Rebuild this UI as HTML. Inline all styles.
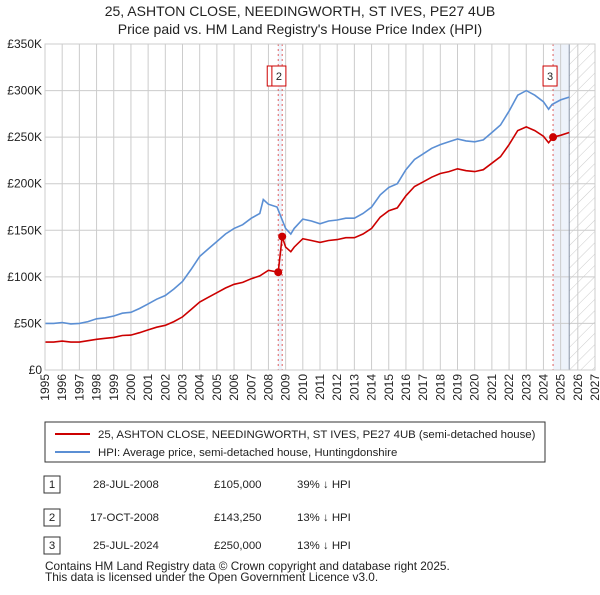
<!DOCTYPE html>
<html><head><meta charset="utf-8"><style>
body{margin:0;background:#fff;font-family:"Liberation Sans",sans-serif}
svg text{font-family:"Liberation Sans","DejaVu Sans",sans-serif}
</style></head><body>
<svg id="c" width="600" height="590" xmlns="http://www.w3.org/2000/svg">
<defs><pattern id="h" width="8" height="8" patternUnits="userSpaceOnUse" patternTransform="rotate(45)"><line x1="0" y1="0" x2="0" y2="8" stroke="#ccc" stroke-width="1"/></pattern></defs>
<text x="300" y="16" text-anchor="middle" font-size="14" fill="#222">25, ASHTON CLOSE, NEEDINGWORTH, ST IVES, PE27 4UB</text>
<text x="300" y="34" text-anchor="middle" font-size="14" fill="#222">Price paid vs. HM Land Registry's House Price Index (HPI)</text>
<g id="plot"></g>
<rect x="45" y="422" width="500" height="40" fill="#fff" stroke="#333"/>
<line x1="55" y1="434" x2="90" y2="434" stroke="#cc0000" stroke-width="2"/>
<text x="98" y="438" font-size="11.4" fill="#222">25, ASHTON CLOSE, NEEDINGWORTH, ST IVES, PE27 4UB (semi-detached house)</text>
<line x1="55" y1="452" x2="90" y2="452" stroke="#5b8fd4" stroke-width="2"/>
<text x="98" y="456" font-size="11.4" fill="#222">HPI: Average price, semi-detached house, Huntingdonshire</text>
<g font-size="11.4" fill="#222">
<rect x="44" y="476" width="16" height="17" fill="none" stroke="#333"/><text x="52" y="488" text-anchor="middle">1</text>
<text x="93" y="488">28-JUL-2008</text><text x="214" y="488">£105,000</text><text x="297" y="488">39% ↓ HPI</text>
<rect x="44" y="509" width="16" height="17" fill="none" stroke="#333"/><text x="52" y="521" text-anchor="middle">2</text>
<text x="90" y="521">17-OCT-2008</text><text x="214" y="521">£143,250</text><text x="297" y="521">13% ↓ HPI</text>
<rect x="44" y="537" width="16" height="17" fill="none" stroke="#333"/><text x="52" y="549" text-anchor="middle">3</text>
<text x="93" y="549">25-JUL-2024</text><text x="214" y="549">£250,000</text><text x="297" y="549">13% ↓ HPI</text>
<text x="45" y="570" font-size="11.8">Contains HM Land Registry data © Crown copyright and database right 2025.</text>
<text x="45" y="581" font-size="11.8">This data is licensed under the Open Government Licence v3.0.</text>
</g>
</svg>
<script>
const hpiYears=[1995,1995.5,1996,1996.5,1997,1997.5,1998,1998.5,1999,1999.5,2000,2000.5,2001,2001.5,2002,2002.5,2003,2003.5,2004,2004.5,2005,2005.5,2006,2006.5,2007,2007.5,2007.7,2008,2008.5,2009,2009.3,2009.5,2010,2010.5,2011,2011.5,2012,2012.5,2013,2013.5,2014,2014.5,2015,2015.5,2016,2016.5,2017,2017.5,2018,2018.5,2019,2019.5,2020,2020.5,2021,2021.5,2022,2022.5,2023,2023.5,2024,2024.3,2024.5,2025,2025.5];
const hpiValues=[50,50,51,49.5,50,52,55,56,58,61,62,66,71,76,80,87,95,108,122,130,138,146,152,156,163,168,183,178,175,152,146,152,162,160,157,160,161,163,163,168,175,188,196,200,215,226,232,238,242,245,248,246,245,247,255,263,278,295,300,295,288,280,285,290,293];
const redYears=[1995,1995.5,1996,1996.5,1997,1997.5,1998,1998.5,1999,1999.5,2000,2000.5,2001,2001.5,2002,2002.5,2003,2003.5,2004,2004.5,2005,2005.5,2006,2006.5,2007,2007.5,2008,2008.57,2008.8,2009,2009.3,2009.5,2010,2010.5,2011,2011.5,2012,2012.5,2013,2013.5,2014,2014.5,2015,2015.5,2016,2016.5,2017,2017.5,2018,2018.5,2019,2019.5,2020,2020.5,2021,2021.5,2022,2022.5,2023,2023.5,2024,2024.3,2024.56,2025,2025.5];
const redValues=[30,30,31,30,30,31.5,33,34,35,37,37.5,40,43,46,48,52,57,65,73,78,83,88,92,94,98,101,107,105,143.25,132,127,132,141,139,137,139,140,142,142,146,152,164,171,174,187,197,202,207,211,213,216,214,213,215,222,229,242,257,261,257,251,244,250,252,255];
const saleYears=[2008.57,2008.8,2024.56];
const saleValues=[105,143.25,250];
const saleLabels=["1","2","3"];
const yTicks=[0,50,100,150,200,250,300,350];
const yTickLabels=["£0","£50K","£100K","£150K","£200K","£250K","£300K","£350K"];
const xTicks=[1995,1996,1997,1998,1999,2000,2001,2002,2003,2004,2005,2006,2007,2008,2009,2010,2011,2012,2013,2014,2015,2016,2017,2018,2019,2020,2021,2022,2023,2024,2025,2026,2027];
const X0=45,X1=595,Y0=370,Y1=44,dataEnd=2025.5;
const xs=y=>X0+(y-1995)/(2027-1995)*(X1-X0);
const ys=v=>Y0-v/350*(Y0-Y1);
const NS="http://www.w3.org/2000/svg";
const g=document.getElementById('plot');
function mk(t,a){const e=document.createElementNS(NS,t);for(const k in a)e.setAttribute(k,a[k]);g.appendChild(e);return e;}
let b=mk('rect',{x:xs(saleYears[0]),y:Y1,width:xs(saleYears[1])-xs(saleYears[0]),height:Y0-Y1,fill:'#eef3fb'});


b=mk('rect',{x:xs(saleYears[2]),y:Y1,width:xs(dataEnd)-xs(saleYears[2]),height:Y0-Y1,fill:'#eef3fb'});


b=mk('rect',{x:xs(dataEnd),y:Y1,width:X1-xs(dataEnd),height:Y0-Y1,fill:'url(#h)'});


yTicks.forEach((v,i)=>{
 const l=mk('line',{x1:X0,x2:X1,y1:ys(v),y2:ys(v),stroke:'#ccc'});
 
 
 const t=mk('text',{x:X0-3,y:ys(v)+4,'text-anchor':'end','font-size':12,fill:'#222'});
 t.textContent=yTickLabels[i];
 
 
});
xTicks.forEach(v=>{
 const l=mk('line',{x1:xs(v),x2:xs(v),y1:Y1,y2:Y0,stroke:'#ccc'});
 
 
 const t=mk('text',{x:0,y:0,'text-anchor':'end','font-size':12,fill:'#222',transform:`translate(${xs(v)+4},374) rotate(-90)`});
 t.textContent=v;
 
 
});
let dl=mk('line',{x1:xs(dataEnd),x2:xs(dataEnd),y1:Y1,y2:Y0,stroke:'#8a94a6','stroke-width':1});


saleYears.forEach((y,i)=>{
 const l=mk('line',{x1:xs(y),x2:xs(y),y1:Y1,y2:Y0,stroke:'#e06060','stroke-dasharray':'2,3'});
 
 
});
const path=(xa,va)=>xa.map((x,i)=>(i?'L':'M')+xs(x).toFixed(1)+','+ys(va[i]).toFixed(1)).join('');
let p=mk('path',{d:path(hpiYears,hpiValues),fill:'none',stroke:'#5b8fd4','stroke-width':1.6});


p=mk('path',{d:path(redYears,redValues),fill:'none',stroke:'#cc0000','stroke-width':1.6});


saleYears.forEach((y,i)=>{
 const c=mk('circle',{cx:xs(y),cy:ys(saleValues[i]),r:4,fill:'#cc0000'});
 
 
});
const boxOff=[-11,-10.3,-10];
saleYears.forEach((y,i)=>{
 const bx=xs(y)+boxOff[i];
 const r=mk('rect',{x:bx,y:66,width:14,height:20,fill:'#fff',stroke:'#cc0000'});
 
 
 const t=mk('text',{x:bx+7,y:80,'text-anchor':'middle','font-size':11,fill:'#222'});
 t.textContent=saleLabels[i];
 
 
});
let ax=mk('rect',{x:X0,y:Y1,width:X1-X0,height:Y0-Y1,fill:'none',stroke:'#ccc'});


</script>
</body></html>
